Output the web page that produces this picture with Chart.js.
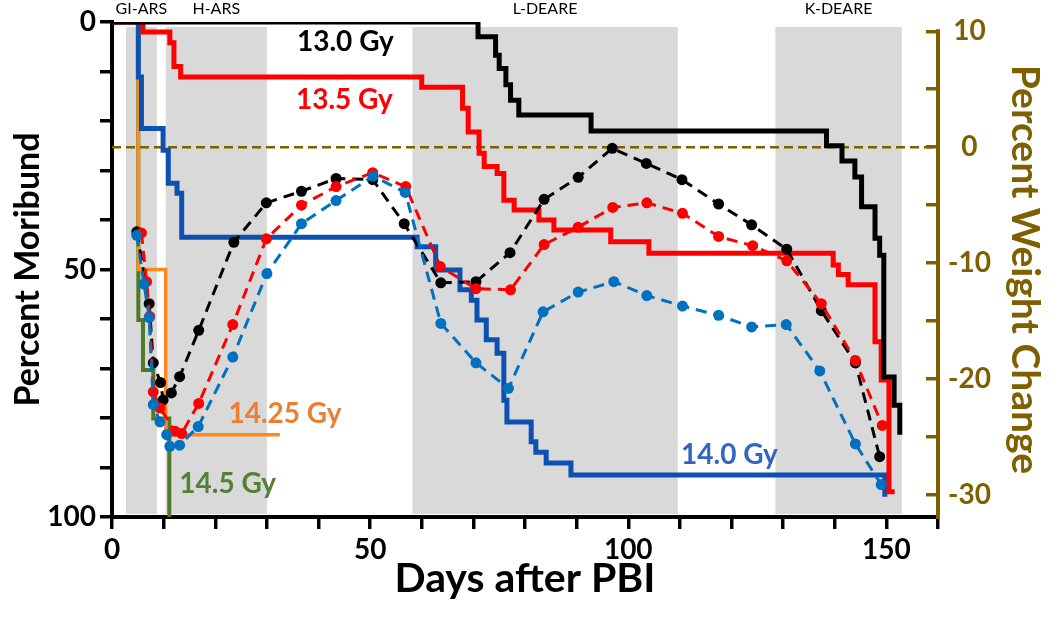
<!DOCTYPE html>
<html>
<head>
<meta charset="utf-8">
<script src="https://cdn.jsdelivr.net/npm/chart.js@4.4.1/dist/chart.umd.min.js"></script>
<style>
html,body{margin:0;padding:0;background:#fff;}
</style>
</head>
<body>
<canvas id="myChart" width="1050" height="622"></canvas>
<script>
// percent moribund, step down at each event day
const mbDays130 = [0, 70.9, 74.3, 75.0, 76.3, 77.2, 78.8, 92.8, 138.4, 141.4, 143.9, 145.2, 147.8, 148.7, 149.5, 151.5, 152.6];
const mb130     = [0, 3.0, 6.7, 9.4, 12.7, 15.8, 18.8, 22.0, 25.0, 28.1, 31.3, 37.3, 43.7, 47.1, 71.7, 77.4, 83.4];

const mbDays135 = [0, 6.0, 11.2, 12.0, 13.3, 60.0, 67.9, 69.0, 71.1, 72.1, 74.6, 75.9, 77.9, 82.7, 85.6, 96.6, 104.0, 139.7, 140.7, 142.6, 147.8, 149.0, 150.5, 151.6];
const mb135     = [0, 2.0, 4.2, 9.0, 11.1, 13.2, 17.4, 22.2, 26.5, 29.2, 30.6, 36.0, 38.0, 40.0, 42.0, 44.4, 46.7, 49.1, 51.0, 53.1, 64.6, 72.3, 94.9, 94.9];

const mbDays140 = [0, 5.1, 5.7, 9.9, 10.9, 12.6, 13.5, 59.1, 62.7, 67.4, 69.6, 70.7, 72.5, 74.6, 75.9, 76.5, 81.2, 82.1, 84.1, 88.9, 149.7];
const mb140     = [0, 11.1, 21.5, 25.9, 32.6, 34.6, 43.5, 45.4, 50.1, 54.1, 56.2, 60.2, 64.2, 66.9, 76.4, 80.8, 84.8, 86.9, 89.1, 91.5, 95.9];

const mbDays1425 = [0, 5.1, 10.4, 32.5];
const mb1425     = [0, 50.0, 83.4, 83.4];

const mbDays145 = [0, 5.1, 6.0, 8.0, 11.1];
const mb145     = [0, 60.2, 70.3, 80.1, 100];

// percent weight change
const wDays130 = [4.8, 7.2, 8.0, 9.4, 9.9, 11.5, 13.1, 16.8, 23.6, 29.9, 36.7, 43.4, 50.5, 56.6, 63.7, 70.5, 77.1, 83.7, 90.3, 96.9, 103.5, 110.4, 117.5, 123.9, 130.7, 137.4, 144.0, 148.7];
const w130     = [-7.3, -13.5, -18.6, -20.3, -21.8, -21.2, -19.8, -15.8, -8.2, -4.8, -3.8, -2.7, -2.8, -6.6, -11.7, -11.6, -9.1, -4.5, -2.6, -0.1, -1.4, -2.8, -4.9, -6.7, -8.8, -14.1, -18.6, -26.7];

const wDays135 = [5.7, 6.7, 7.3, 8.0, 9.3, 12.2, 13.5, 16.8, 23.4, 29.9, 36.7, 43.4, 50.5, 56.9, 63.6, 70.5, 77.2, 83.7, 90.3, 97.0, 103.6, 110.5, 117.5, 124.1, 130.7, 137.4, 144.0, 149.2];
const w135     = [-7.4, -11.6, -14.6, -21.1, -22.5, -24.5, -24.7, -22.1, -15.3, -7.9, -5.0, -3.4, -2.2, -3.4, -10.3, -12.2, -12.3, -8.4, -6.9, -5.2, -4.8, -5.7, -7.7, -8.5, -9.8, -13.5, -18.4, -24.0];

const wDays140 = [4.8, 6.2, 7.2, 8.0, 9.3, 10.6, 11.2, 13.1, 16.7, 23.4, 30.0, 36.7, 43.4, 50.6, 56.8, 63.7, 70.5, 76.8, 83.5, 90.3, 97.2, 103.6, 110.5, 117.5, 123.9, 130.6, 137.1, 144.0, 149.0];
const w140     = [-7.6, -11.8, -14.7, -22.2, -23.7, -24.8, -25.8, -25.7, -24.1, -18.1, -10.9, -6.6, -4.6, -2.5, -3.9, -15.2, -18.6, -20.8, -14.2, -12.5, -11.6, -12.8, -13.7, -14.5, -15.5, -15.3, -19.3, -25.6, -29.1];

// shaded phases (days)
const phaseNames = ['GI-ARS', 'H-ARS', 'L-DEARE', 'K-DEARE'];
const phaseStart = [2.7, 10.4, 58.2, 128.5];
const phaseEnd   = [8.7, 30.0, 109.6, 153.0];

// ticks
const xTickLabels = [0, 50, 100, 150];
const yTickLabels = [0, 50, 100];
const wTicks = [-30, -25, -20, -15, -10, -5, 0, 5, 10];
const wTickLabels = [-30, -20, -10, 0, 10];

const brown = '#7f6000';
const fontName = 'Lato';

function pts(xs, ys) {
    let out = [];
    for (let i = 0; i < xs.length; i++) out.push({x: xs[i], y: ys[i]});
    return out;
}

const groupLabels = [
    {text: '13.0 Gy', day: 45.2, pct: 4.0, color: '#000000'},
    {text: '13.5 Gy', day: 45.0, pct: 15.8, color: '#ff0000'},
    {text: '14.25 Gy', day: 33.5, pct: 79.2, color: '#ed7d31'},
    {text: '14.5 Gy', day: 22.4, pct: 93.3, color: '#538135'},
    {text: '14.0 Gy', day: 119.6, pct: 87.5, color: '#3366c2'}
];

const phasePlugin = {
    id: 'phases',
    beforeDatasetsDraw(chart) {
        const ctx = chart.ctx;
        const xs = chart.scales.x;
        const area = chart.chartArea;
        ctx.save();
        ctx.fillStyle = '#d9d9d9';
        for (let i = 0; i < phaseNames.length; i++) {
            const a = xs.getPixelForValue(phaseStart[i]);
            const b = xs.getPixelForValue(phaseEnd[i]);
            ctx.fillRect(a, area.top + 5, b - a, area.bottom - area.top - 8);
        }
        ctx.fillStyle = '#000';
        ctx.font = '16px ' + fontName;
        ctx.textAlign = 'center';
        ctx.textBaseline = 'middle';
        for (let i = 0; i < phaseNames.length; i++) {
            const c = xs.getPixelForValue((phaseStart[i] + phaseEnd[i]) / 2);
            ctx.fillText(phaseNames[i], c, 9);
        }
        ctx.restore();
    },
    afterDatasetsDraw(chart) {
        const ctx = chart.ctx;
        const xs = chart.scales.x;
        const ys = chart.scales.y;
        const ws = chart.scales.y2;
        const area = chart.chartArea;
        ctx.save();
        // right axis line only runs from the top tick down
        ctx.strokeStyle = brown;
        ctx.lineWidth = 4;
        ctx.beginPath();
        ctx.moveTo(area.right, ws.getPixelForValue(wTicks[wTicks.length - 1]) - 2);
        ctx.lineTo(area.right, area.bottom + 2);
        ctx.stroke();

        ctx.font = 'bold 28px ' + fontName;
        ctx.textAlign = 'center';
        ctx.textBaseline = 'middle';
        groupLabels.forEach(function (g) {
            ctx.fillStyle = g.color;
            ctx.fillText(g.text, xs.getPixelForValue(g.day), ys.getPixelForValue(g.pct));
        });
        ctx.restore();
    }
};

function stepSet(name, xs, ys, color, width, ord) {
    return {
        label: name, data: pts(xs, ys), yAxisID: 'y',
        borderColor: color, borderWidth: width, stepped: 'before',
        pointRadius: 0, fill: false, order: ord
    };
}
function weightSet(name, xs, ys, color, ord) {
    return {
        label: name, data: pts(xs, ys), yAxisID: 'y2',
        borderColor: color, borderWidth: 3, borderDash: [11, 7],
        pointRadius: 5.5, pointBackgroundColor: color, pointBorderWidth: 0,
        tension: 0, fill: false, order: ord
    };
}

// scales keep fixed sizes, no extra label padding
function fixSize(w, h) {
    return function (s) {
        if (w) s.width = w;
        if (h) s.height = h;
        s.paddingTop = 0;
        s.paddingBottom = 0;
        s.paddingLeft = 0;
        s.paddingRight = 0;
    };
}

const ctx = document.getElementById('myChart').getContext('2d');
const myChart = new Chart(ctx, {
    type: 'line',
    data: {
        datasets: [
            weightSet('wt 14.0', wDays140, w140, '#0070c0', 1),
            weightSet('wt 13.5', wDays135, w135, '#ff0000', 2),
            weightSet('wt 13.0', wDays130, w130, '#000000', 3),
            stepSet('13.0 Gy', mbDays130, mb130, '#000000', 5, 4),
            stepSet('13.5 Gy', mbDays135, mb135, '#ff0000', 5, 5),
            stepSet('14.0 Gy', mbDays140, mb140, '#0c50b0', 5, 6),
            stepSet('14.25 Gy', mbDays1425, mb1425, '#ff8a1a', 3.5, 7),
            stepSet('14.5 Gy', mbDays145, mb145, '#4e7a27', 4, 8),
            {
                label: 'zero', data: [{x: 0, y: 0}, {x: 160, y: 0}], yAxisID: 'y2',
                borderColor: brown, borderWidth: 2.5, borderDash: [9, 5],
                pointRadius: 0, order: 9
            }
        ]
    },
    options: {
        responsive: false,
        animation: false,
        layout: {padding: {top: 22, left: 0, right: 0, bottom: 0}},
        plugins: {legend: {display: false}, tooltip: {enabled: false}},
        scales: {
            x: {
                type: 'linear', position: 'bottom', min: 0, max: 160,
                afterFit: fixSize(0, 105),
                ticks: {
                    stepSize: 10, autoSkip: false, maxRotation: 0, color: '#000', padding: 4,
                    font: {family: fontName, size: 28, weight: 'bold'},
                    callback: function (v) { return xTickLabels.indexOf(v) >= 0 ? String(v) : ''; }
                },
                grid: {drawOnChartArea: false, drawTicks: true, tickLength: 12, lineWidth: 3.5, color: '#000'},
                border: {display: true, width: 4, color: '#000'},
                title: {display: true, text: 'Days after PBI', color: '#000',
                    font: {family: fontName, size: 41, weight: 'bold'}, padding: {top: 0, bottom: 19}}
            },
            y: {
                type: 'linear', position: 'left', reverse: true, min: 0, max: 100,
                afterFit: fixSize(112, 0),
                ticks: {
                    stepSize: 10, autoSkip: false, color: '#000', padding: 4,
                    font: {family: fontName, size: 28, weight: 'bold'},
                    callback: function (v) { return yTickLabels.indexOf(v) >= 0 ? String(v) : ''; }
                },
                grid: {drawOnChartArea: false, drawTicks: true, tickLength: 12, lineWidth: 3.5, color: '#000'},
                border: {display: true, width: 4, color: '#000'},
                title: {display: true, text: 'Percent Moribund', color: '#000',
                    font: {family: fontName, size: 34, weight: 'bold'}, padding: {top: 8, bottom: 0}}
            },
            y2: {
                type: 'linear', position: 'right', min: -31.9, max: 10.8,
                afterFit: fixSize(112, 0),
                afterBuildTicks: function (s) { s.ticks = wTicks.map(function (v) { return {value: v}; }); },
                ticks: {
                    autoSkip: false, color: brown, padding: 22, crossAlign: 'center',
                    font: {family: fontName, size: 28, weight: 'bold'},
                    callback: function (v) { return wTickLabels.indexOf(v) >= 0 ? String(v) : ''; }
                },
                grid: {drawOnChartArea: false, drawTicks: true, tickLength: -12, lineWidth: 3.5, color: brown},
                border: {display: false},
                title: {display: true, text: 'Percent Weight Change', color: brown,
                    font: {family: fontName, size: 39, weight: 'bold'}, padding: {top: 2, bottom: 0}}
            }
        }
    },
    plugins: [phasePlugin]
});
</script>
</body>
</html>
